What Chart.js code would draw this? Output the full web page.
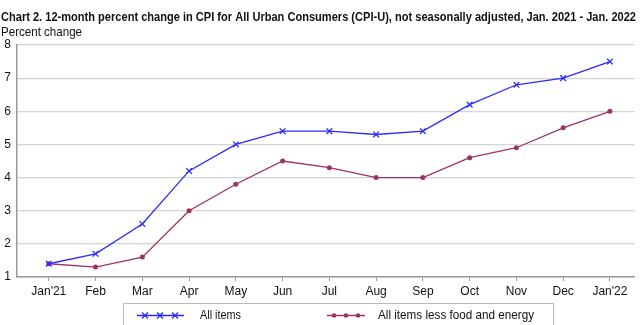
<!DOCTYPE html>
<html>
<head>
<meta charset="utf-8">
<script src="https://cdn.jsdelivr.net/npm/chart.js@4"></script>
<style>
  html, body { margin: 0; padding: 0; background: #fff; }
  #wrap { width: 640px; height: 325px; position: relative; }
</style>
</head>
<body>
<div id="wrap"><canvas id="chart"></canvas></div>
<script>
// data
const months = ["Jan'21", 'Feb', 'Mar', 'Apr', 'May', 'Jun', 'Jul', 'Aug', 'Sep', 'Oct', 'Nov', 'Dec', "Jan'22"];
const allItems = [1.4, 1.7, 2.6, 4.2, 5.0, 5.4, 5.4, 5.3, 5.4, 6.2, 6.8, 7.0, 7.5];
const coreItems = [1.4, 1.3, 1.6, 3.0, 3.8, 4.5, 4.3, 4.0, 4.0, 4.6, 4.9, 5.5, 6.0];
const yTicks = [1, 2, 3, 4, 5, 6, 7, 8];

const titleText = 'Chart 2. 12-month percent change in CPI for All Urban Consumers (CPI-U), not seasonally adjusted, Jan. 2021 - Jan. 2022';
const subText = 'Percent change';
const blue = '#2b2bff';
const plum = '#9c3366';
const font = '"Liberation Sans", Arial, sans-serif';

// squeeze text horizontally so it takes the given width (reference font is narrow)
function fitText(c, text, x, y, width) {
    const w = c.measureText(text).width;
    c.save();
    c.translate(x, y);
    c.scale(width / w, 1);
    c.fillText(text, 0, 0);
    c.restore();
}

// title, subtitle and the boxed legend at the bottom
const decor = {
    id: 'decor',
    afterDraw(chart) {
        const c = chart.ctx;
        c.save();
        c.fillStyle = '#111';
        c.textBaseline = 'alphabetic';
        c.font = 'bold 13px ' + font;
        fitText(c, titleText, 1, 21, 635);
        c.font = '13px ' + font;
        fitText(c, subText, 1, 36, 81);

        // legend box
        c.strokeStyle = '#bbb';
        c.lineWidth = 1;
        c.strokeRect(123.5, 303.5, 430, 24);

        const y = 315.5;
        c.lineWidth = 1.3;
        c.strokeStyle = blue;
        c.beginPath(); c.moveTo(137, y); c.lineTo(184, y); c.stroke();
        [145, 160, 175].forEach(x => {
            c.beginPath();
            c.moveTo(x - 3, y - 3); c.lineTo(x + 3, y + 3);
            c.moveTo(x - 3, y + 3); c.lineTo(x + 3, y - 3);
            c.stroke();
        });
        c.strokeStyle = plum;
        c.fillStyle = plum;
        c.beginPath(); c.moveTo(327, y); c.lineTo(365, y); c.stroke();
        [334, 346, 358].forEach(x => {
            c.beginPath(); c.arc(x, y, 2.3, 0, Math.PI * 2); c.fill();
        });

        c.fillStyle = '#111';
        c.font = '13px ' + font;
        c.textBaseline = 'middle';
        fitText(c, 'All items', 200, y, 41);
        fitText(c, 'All items less food and energy', 378, y, 156);
        c.restore();
    }
};

new Chart(document.getElementById('chart'), {
    type: 'line',
    data: {
        datasets: [{
            label: 'All items',
            data: allItems.map((v, i) => ({ x: i, y: v })),
            borderColor: blue,
            backgroundColor: blue,
            borderWidth: 1.3,
            pointStyle: 'crossRot',
            pointRadius: 4,
            pointBorderWidth: 1.3,
            tension: 0
        }, {
            label: 'All items less food and energy',
            data: coreItems.map((v, i) => ({ x: i, y: v })),
            borderColor: plum,
            backgroundColor: plum,
            borderWidth: 1.3,
            pointStyle: 'circle',
            pointRadius: 2.5,
            pointBorderWidth: 0,
            tension: 0
        }]
    },
    options: {
        responsive: true,
        maintainAspectRatio: false,
        animation: false,
        layout: { padding: { top: 45, right: 2, bottom: 26, left: 0 } },
        plugins: {
            legend: { display: false },
            title: { display: false },
            tooltip: { enabled: false }
        },
        scales: {
            x: {
                type: 'linear',
                min: -0.68,
                max: 12.53,
                afterBuildTicks: s => { s.ticks = months.map((_, i) => ({ value: i })); },
                afterFit: s => { s.height = 22; },
                ticks: {
                    callback: v => months[v],
                    color: '#111',
                    font: { size: 12, family: font },
                    padding: 3,
                    maxRotation: 0,
                    autoSkip: false
                },
                grid: { drawOnChartArea: false, drawTicks: true, tickLength: 4, color: '#999' },
                border: { color: '#999', width: 1.5 }
            },
            y: {
                min: 1,
                max: 8,
                afterBuildTicks: s => { s.ticks = yTicks.map(v => ({ value: v })); },
                afterFit: s => { s.width = 17; },
                ticks: {
                    color: '#111',
                    font: { size: 12, family: font },
                    padding: 6
                },
                grid: { color: '#d4d4d4', lineWidth: 1.2, drawTicks: false },
                border: { color: '#999', width: 1.5 }
            }
        }
    },
    plugins: [decor]
});
</script>
</body>
</html>
